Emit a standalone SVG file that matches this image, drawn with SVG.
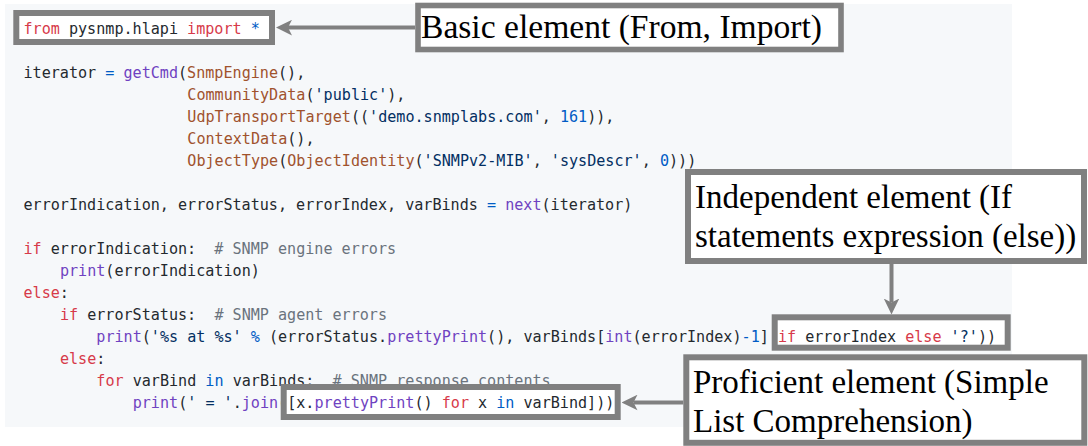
<svg xmlns="http://www.w3.org/2000/svg" width="1088" height="446" viewBox="0 0 1088 446">
  <defs>
    <style>
      .code { font-family: "DejaVu Sans Mono", "Liberation Mono", monospace; font-size: 15.1px; fill: #24292e; white-space: pre; }
      .kw { fill: #d73a49; }
      .fn { fill: #6f42c1; }
      .cls { fill: #a0522d; }
      .str { fill: #032f62; }
      .num { fill: #005cc5; }
      .op { fill: #005cc5; }
      .cm { fill: #6a737d; }
      .hl-fill { fill: #ffffff; stroke: none; }
      .hl { fill: none; stroke: #808080; stroke-width: 6; }
      .label-box { fill: #ffffff; stroke: #808080; stroke-width: 6; }
      .label { font-family: "Liberation Serif", "Times New Roman", serif; font-size: 33px; fill: #000000; }
      .conn { fill: none; stroke: #808080; stroke-width: 4; }
    </style>
    <marker id="arrow" viewBox="0 0 16 16" markerUnits="userSpaceOnUse" markerWidth="16" markerHeight="16" refX="4" refY="8" orient="auto">
      <path d="M16,8 L0,0.2 L4,8 L0,15.8 Z" fill="#808080"/>
    </marker>
  </defs>

  <rect id="code-background" x="5" y="4" width="1007" height="423" fill="#f6f8fa"/>

  <g id="highlight-fills">
    <rect class="hl-fill" x="16.3" y="13" width="255.7" height="29"/>
    <rect class="hl-fill" x="774.7" y="317.3" width="233" height="30.4"/>
    <rect class="hl-fill" x="283.7" y="387" width="334" height="30"/>
  </g>

  <g id="code" class="code">
    <text xml:space="preserve" x="23.5" y="34"><tspan class="kw">from</tspan> pysnmp.hlapi <tspan class="kw">import</tspan> <tspan class="op">*</tspan></text>
    <text xml:space="preserve" x="23.5" y="78">iterator <tspan class="op">=</tspan> <tspan class="fn">getCmd</tspan>(<tspan class="cls">SnmpEngine</tspan>(),</text>
    <text xml:space="preserve" x="187.3" y="100"><tspan class="cls">CommunityData</tspan>(<tspan class="str">'public'</tspan>),</text>
    <text xml:space="preserve" x="187.3" y="122"><tspan class="cls">UdpTransportTarget</tspan>((<tspan class="str">'demo.snmplabs.com'</tspan>, <tspan class="num">161</tspan>)),</text>
    <text xml:space="preserve" x="187.3" y="144"><tspan class="cls">ContextData</tspan>(),</text>
    <text xml:space="preserve" x="187.3" y="166"><tspan class="cls">ObjectType</tspan>(<tspan class="cls">ObjectIdentity</tspan>(<tspan class="str">'SNMPv2-MIB'</tspan>, <tspan class="str">'sysDescr'</tspan>, <tspan class="num">0</tspan>)))</text>
    <text xml:space="preserve" x="23.5" y="210">errorIndication, errorStatus, errorIndex, varBinds <tspan class="op">=</tspan> <tspan class="fn">next</tspan>(iterator)</text>
    <text xml:space="preserve" x="23.5" y="254"><tspan class="kw">if</tspan> errorIndication:  <tspan class="cm"># SNMP engine errors</tspan></text>
    <text xml:space="preserve" x="59.9" y="276"><tspan class="fn">print</tspan>(errorIndication)</text>
    <text xml:space="preserve" x="23.5" y="298"><tspan class="kw">else</tspan>:</text>
    <text xml:space="preserve" x="59.9" y="320"><tspan class="kw">if</tspan> errorStatus:  <tspan class="cm"># SNMP agent errors</tspan></text>
    <text xml:space="preserve" x="96.3" y="342"><tspan class="fn">print</tspan>(<tspan class="str">'%s at %s'</tspan> <tspan class="op">%</tspan> (errorStatus.<tspan class="fn">prettyPrint</tspan>(), varBinds[<tspan class="fn">int</tspan>(errorIndex)<tspan class="op">-</tspan><tspan class="num">1</tspan>] <tspan class="kw">if</tspan> errorIndex <tspan class="kw">else</tspan> <tspan class="str">'?'</tspan>))</text>
    <text xml:space="preserve" x="59.9" y="364"><tspan class="kw">else</tspan>:</text>
    <text xml:space="preserve" x="96.3" y="386"><tspan class="kw">for</tspan> varBind <tspan class="op">in</tspan> varBinds:  <tspan class="cm"># SNMP response contents</tspan></text>
    <text xml:space="preserve" x="132.7" y="408"><tspan class="fn">print</tspan>(<tspan class="str">' = '</tspan>.<tspan class="fn">join</tspan>([x.<tspan class="fn">prettyPrint</tspan>() <tspan class="kw">for</tspan> x <tspan class="op">in</tspan> varBind]))</text>
  </g>

  <g id="highlight-import">
    <rect class="hl" x="16.3" y="13" width="255.7" height="29"/>
  </g>
  <g id="highlight-else">
    <rect class="hl" x="774.7" y="317.3" width="233" height="30.4"/>
  </g>
  <g id="highlight-listcomp">
    <rect class="hl" x="283.7" y="387" width="334" height="30"/>
  </g>

  <g id="label-basic">
    <rect class="label-box" x="418" y="5.5" width="423" height="44" style="stroke-width:5.6"/>
    <text class="label" x="421" y="38" style="font-size:33.6px">Basic element (From, Import)</text>
  </g>
  <g id="label-independent">
    <rect class="label-box" x="688" y="172" width="396" height="89"/>
    <text class="label" x="695" y="208">Independent element (If</text>
    <text class="label" x="695" y="247">statements expression (else))</text>
  </g>
  <g id="label-proficient">
    <rect class="label-box" x="686.3" y="357.3" width="398" height="85.5"/>
    <text class="label" x="693" y="393">Proficient element (Simple</text>
    <text class="label" x="693" y="432">List Comprehension)</text>
  </g>

  <g id="connectors">
    <line class="conn" x1="415" y1="27.6" x2="288" y2="27.6" marker-end="url(#arrow)"/>
    <line class="conn" x1="891.5" y1="264" x2="891.5" y2="302.5" marker-end="url(#arrow)"/>
    <line class="conn" x1="683.3" y1="402.5" x2="633.5" y2="402.5" marker-end="url(#arrow)"/>
  </g>
</svg>
